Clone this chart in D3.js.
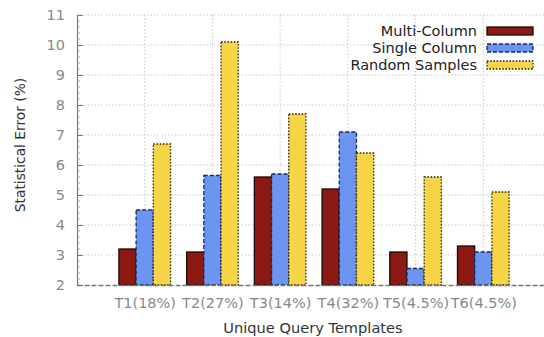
<!DOCTYPE html>
<html><head><meta charset="utf-8">
<script src="https://cdn.jsdelivr.net/npm/d3@7"></script>
<style>body{margin:0;background:#fff}svg{display:block}</style>
</head><body>
<svg id="c" width="544" height="337"></svg>
<script>
const categories = ["T1(18%)","T2(27%)","T3(14%)","T4(32%)","T5(4.5%)","T6(4.5%)"];
const seriesNames = ["Multi-Column","Single Column","Random Samples"];
const multiColumn = [3.2, 3.1, 5.6, 5.2, 3.1, 3.3];
const singleColumn = [4.5, 5.65, 5.7, 7.1, 2.55, 3.1];
const randomSamples = [6.7, 10.1, 7.7, 6.4, 5.6, 5.1];
const yTicks = [2,3,4,5,6,7,8,9,10,11];

const svg = d3.select("#c");
const pL = 77, pR = 551, pT = 15, pB = 285;
const x = d3.scaleLinear().domain([0, 7]).range([pL, pR]);
const y = d3.scaleLinear().domain([2, 11]).range([pB, pT]);
const fills = ["#8c1a12", "#6b95f0", "#f8d547"];
const strokes = ["#1a0a06", "#1a2a55", "#2a2410"];
const dashes = [null, "4,2", "1.6,1.6"];
const series = [multiColumn, singleColumn, randomSamples];
const barW = 17.2;

// grid
const g = svg.append("g");
g.selectAll(".hg").data(yTicks.slice(1)).join("line")
  .attr("x1", pL).attr("x2", 544).attr("y1", d=>y(d)).attr("y2", d=>y(d))
  .attr("stroke", "#bbb").attr("stroke-width", 0.8).attr("stroke-dasharray", "1.5,2");
g.selectAll(".vg").data(categories).join("line")
  .attr("x1", (d,i)=>x(i+1)).attr("x2", (d,i)=>x(i+1)).attr("y1", pT).attr("y2", pB)
  .attr("stroke", "#bbb").attr("stroke-width", 0.8).attr("stroke-dasharray", "1.5,2");

// bars
series.forEach((vals, s) => {
  svg.append("g").selectAll("rect").data(vals).join("rect")
    .attr("x", (d,i)=>x(i+1) - 1.5*barW + s*barW)
    .attr("y", d=>y(d))
    .attr("width", barW)
    .attr("height", d=>y(2)-y(d))
    .attr("fill", fills[s])
    .attr("stroke", strokes[s])
    .attr("stroke-width", 1.3)
    .attr("stroke-dasharray", dashes[s]);
});

// left axis
const yAxis = d3.axisLeft(y).tickValues(yTicks).tickSize(-6).tickPadding(12).tickFormat(d3.format("d"));
const ya = svg.append("g").attr("transform", `translate(${pL},0)`).call(yAxis);
ya.select(".domain").attr("stroke", "#777").attr("stroke-width", 1.2);
ya.selectAll(".tick line").attr("stroke", "#777");
ya.selectAll(".tick text").attr("fill", "#888").attr("font-size", 14.5).attr("font-family", "DejaVu Sans");
// minor ticks
const minor = d3.range(2, 11.001, 0.2).filter(v => Math.abs(v - Math.round(v)) > 1e-6);
svg.append("g").selectAll("line").data(minor).join("line")
  .attr("x1", pL).attr("x2", pL+3).attr("y1", d=>y(d)).attr("y2", d=>y(d))
  .attr("stroke", "#999").attr("stroke-width", 0.8);

// bottom axis
const xa = svg.append("g").attr("transform", `translate(0,${pB})`)
  .call(d3.axisBottom(x).tickValues([1,2,3,4,5,6]).tickSize(0).tickPadding(13).tickFormat((d)=>categories[d-1]));
xa.select(".domain").attr("stroke", "#777").attr("stroke-width", 1.5).attr("stroke-dasharray", "5,2");
xa.selectAll(".tick text").attr("fill", "#888").attr("font-size", 14.5).attr("font-family", "DejaVu Sans");

// titles
svg.append("text").attr("x", 313).attr("y", 333).attr("text-anchor", "middle")
  .attr("font-family", "DejaVu Sans").attr("font-size", 14.6).attr("fill", "#333").text("Unique Query Templates");
svg.append("text").attr("transform", "translate(25,145) rotate(-90)").attr("text-anchor", "middle")
  .attr("font-family", "DejaVu Sans").attr("font-size", 13.8).attr("fill", "#333").text("Statistical Error (%)");

// legend
const leg = svg.append("g");
seriesNames.forEach((name, s) => {
  const cy = 31 + s*17;
  leg.append("text").attr("x", 477).attr("y", cy + 5).attr("text-anchor", "end")
    .attr("font-family", "DejaVu Sans").attr("font-size", 14.5).attr("fill", "#222").text(name);
  leg.append("rect").attr("x", 487).attr("y", cy - 4).attr("width", 46).attr("height", 8)
    .attr("fill", fills[s]).attr("stroke", strokes[s]).attr("stroke-width", 1.3).attr("stroke-dasharray", dashes[s]);
});
</script>
</body></html>
